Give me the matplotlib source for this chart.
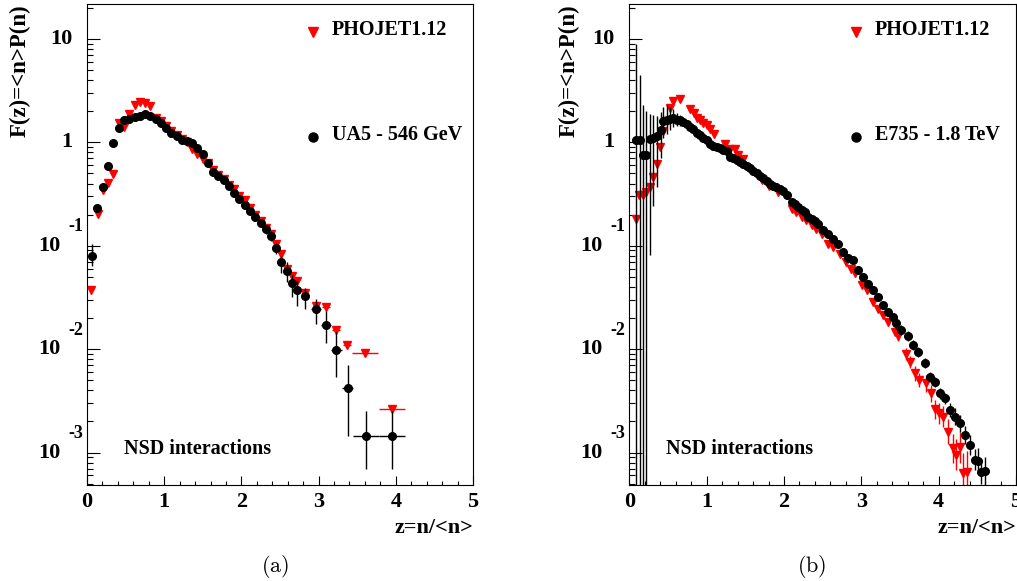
import numpy as np
import matplotlib.pyplot as plt
from matplotlib.ticker import FixedLocator, LogLocator, NullFormatter, MultipleLocator

plt.rcParams['font.family'] = ['Liberation Serif', 'DejaVu Serif']
plt.rcParams['mathtext.fontset'] = 'cm'

# ---- panel (a): UA5 546 GeV ----
ua5_z = [0.069, 0.133, 0.203, 0.276, 0.341, 0.410, 0.479, 0.547, 0.617, 0.686,
         0.754, 0.815, 0.889, 0.953, 1.022, 1.090, 1.160, 1.225, 1.294, 1.358,
         1.427, 1.497, 1.569, 1.634, 1.703, 1.772, 1.841, 1.906, 1.975, 2.044,
         2.113, 2.182, 2.251, 2.316, 2.385, 2.454, 2.519, 2.591, 2.656, 2.725,
         2.829, 2.962, 3.096, 3.230, 3.376, 3.613, 3.949]
ua5_f = [0.080, 0.232, 0.37, 0.59, 0.99, 1.39, 1.63, 1.69, 1.76, 1.81,
         1.88, 1.81, 1.68, 1.55, 1.37, 1.24, 1.14, 1.05, 1.02, 0.978,
         0.88, 0.78, 0.63, 0.52, 0.47, 0.43, 0.376, 0.327, 0.286, 0.246,
         0.216, 0.188, 0.165, 0.144, 0.125, 0.095, 0.0697, 0.0567, 0.044, 0.0377,
         0.0325, 0.0243, 0.0171, 0.0097, 0.00423, 0.00143, 0.00143]
# errors in decades (down / up)
ua5_dn = [0.10, 0.04, 0.03, 0.02, 0.02, 0.02, 0.02, 0.02, 0.02, 0.02,
          0.02, 0.02, 0.02, 0.02, 0.02, 0.02, 0.02, 0.02, 0.02, 0.02,
          0.02, 0.02, 0.02, 0.02, 0.02, 0.02, 0.03, 0.03, 0.03, 0.03,
          0.03, 0.03, 0.04, 0.04, 0.05, 0.06, 0.11, 0.10, 0.14, 0.16,
          0.12, 0.14, 0.17, 0.26, 0.47, 0.31, 0.31]
ua5_up = [0.11, 0.04, 0.03, 0.02, 0.02, 0.02, 0.02, 0.02, 0.02, 0.02,
          0.02, 0.02, 0.02, 0.02, 0.02, 0.02, 0.02, 0.02, 0.02, 0.02,
          0.02, 0.02, 0.02, 0.02, 0.02, 0.02, 0.03, 0.03, 0.03, 0.03,
          0.03, 0.03, 0.04, 0.04, 0.05, 0.05, 0.06, 0.09, 0.07, 0.09,
          0.08, 0.10, 0.14, 0.18, 0.22, 0.25, 0.25]
ua5_xerr = [0.03, 0.0, 0.0, 0.0, 0.0, 0.0, 0.0, 0.0, 0.0, 0.0,
            0.0, 0.0, 0.0, 0.0, 0.0, 0.0, 0.0, 0.0, 0.0, 0.0,
            0.0, 0.0, 0.0, 0.0, 0.0, 0.0, 0.0, 0.0, 0.0, 0.0,
            0.0, 0.0, 0.0, 0.0, 0.0, 0.0, 0.0, 0.0, 0.0, 0.0,
            0.05, 0.065, 0.065, 0.07, 0.075, 0.168, 0.168]

pho_a_z = [0.052, 0.138, 0.203, 0.276, 0.341, 0.410, 0.479, 0.547, 0.617, 0.686,
           0.754, 0.815, 0.889, 0.953, 1.022, 1.090, 1.160, 1.225, 1.294, 1.358,
           1.427, 1.497, 1.569, 1.634, 1.703, 1.772, 1.841, 1.906, 1.975, 2.044,
           2.113, 2.182, 2.251, 2.316, 2.385, 2.454, 2.519, 2.591, 2.656, 2.725,
           2.829, 2.962, 3.096, 3.230, 3.364, 3.605, 3.949]
pho_a_f = [0.037, 0.205, 0.344, 0.408, 0.498, 1.54, 1.41, 1.89, 2.28, 2.45,
           2.40, 2.23, 1.72, 1.60, 1.45, 1.28, 1.17, 1.07, 1.00, 0.855,
           0.766, 0.69, 0.63, 0.545, 0.48, 0.44, 0.39, 0.351, 0.30, 0.279,
           0.23, 0.20, 0.175, 0.15, 0.13, 0.103, 0.084, 0.06, 0.0507, 0.0454,
           0.035, 0.026, 0.0253, 0.0153, 0.0109, 0.00922, 0.00263]
pho_a_xerr = [0.0] * 42 + [0.05, 0.05, 0.05, 0.168, 0.168]

# ---- panel (b): E735 1.8 TeV ----
e735_z = [0.09, 0.14, 0.18, 0.22, 0.267, 0.31, 0.354, 0.405, 0.44, 0.483,
          0.526, 0.568, 0.611, 0.655, 0.698, 0.741, 0.784, 0.827, 0.871, 0.913,
          0.956, 1.0, 1.043, 1.085, 1.129, 1.17, 1.214, 1.257, 1.30, 1.343,
          1.387, 1.43, 1.473, 1.516, 1.559, 1.60, 1.645, 1.688, 1.73, 1.775,
          1.818, 1.86, 1.90, 1.947, 1.99, 2.034, 2.105, 2.14, 2.184, 2.227,
          2.27, 2.313, 2.356, 2.399, 2.442, 2.506, 2.571, 2.636, 2.70, 2.765,
          2.829, 2.894, 2.958, 3.023, 3.088, 3.152, 3.217, 3.282, 3.346, 3.411,
          3.454, 3.519, 3.605, 3.669, 3.734, 3.82, 3.885, 3.95, 4.014, 4.079,
          4.143, 4.208, 4.273, 4.337, 4.402, 4.467, 4.51, 4.553, 4.6]
e735_f = [1.05, 1.05, 0.76, 0.75, 1.09, 1.11, 1.14, 1.31, 1.60, 1.66,
          1.69, 1.72, 1.66, 1.63, 1.57, 1.49, 1.41, 1.34, 1.24, 1.17,
          1.11, 1.045, 0.97, 0.92, 0.90, 0.88, 0.85, 0.82, 0.72, 0.71,
          0.68, 0.645, 0.62, 0.586, 0.56, 0.528, 0.50, 0.47, 0.455, 0.423,
          0.40, 0.378, 0.37, 0.357, 0.34, 0.307, 0.265, 0.255, 0.237, 0.222,
          0.212, 0.19, 0.182, 0.174, 0.164, 0.141, 0.129, 0.117, 0.105, 0.087,
          0.0769, 0.0735, 0.0589, 0.050, 0.0425, 0.0372, 0.032, 0.0266, 0.0229, 0.0205,
          0.0177, 0.0153, 0.0134, 0.0109, 0.0094, 0.00738, 0.0054, 0.00483, 0.00373, 0.00334,
          0.00257, 0.00222, 0.00191, 0.00148, 0.00118, 0.00085, 0.00083, 0.00065, 0.00066]
e735_up = ([0.93, 0.63, 0.48, 0.43, 0.24, 0.22, 0.20, 0.18, 0.14, 0.14,
            0.11, 0.09, 0.06, 0.05] + [0.02] * 31 + [0.03] * 25 + [0.05] * 10
           + [0.07, 0.08, 0.08, 0.09, 0.10, 0.10, 0.12, 0.12, 0.14])
e735_dn = ([5.0, 5.0, 5.0, 5.0, 1.13, 0.66, 0.49, 0.27, 0.16, 0.14,
            0.11, 0.09, 0.06, 0.05] + [0.02] * 31 + [0.03] * 25 + [0.05] * 10
           + [0.07, 0.08, 0.08, 0.09, 0.10, 0.10, 0.12, 0.12, 0.14])

pho_b_z = [0.087, 0.121, 0.173, 0.216, 0.263, 0.310, 0.354, 0.397, 0.440, 0.483,
           0.526, 0.560, 0.655, 0.784, 0.836, 0.879, 0.920, 0.956, 1.000, 1.043,
           1.094, 1.236, 1.300, 1.370, 1.410, 1.470, 1.710, 1.800, 1.925, 2.098,
           2.160, 2.227, 2.290, 2.356, 2.420, 2.486, 2.571, 2.636, 2.722, 2.808,
           2.873, 2.920, 3.003, 3.067, 3.153, 3.217, 3.280, 3.346, 3.433, 3.480,
           3.584, 3.627, 3.691, 3.750, 3.842, 3.907, 3.950, 4.010, 4.057, 4.122,
           4.186, 4.230, 4.273, 4.316, 4.360]
pho_b_f = [0.183, 0.307, 0.307, 0.331, 0.37, 0.46, 0.62, 0.90, 1.29, 1.60,
           2.16, 2.49, 2.60, 2.12, 1.92, 1.73, 1.66, 1.54, 1.46, 1.36,
           1.21, 0.97, 0.87, 0.86, 0.75, 0.69, 0.43, 0.376, 0.331, 0.229,
           0.21, 0.19, 0.176, 0.158, 0.145, 0.131, 0.105, 0.0975, 0.084, 0.0697,
           0.060, 0.055, 0.0415, 0.0372, 0.0286, 0.0247, 0.0213, 0.0184, 0.0147, 0.0135,
           0.00895, 0.00754, 0.00582, 0.005, 0.00466, 0.00373, 0.00261, 0.0024, 0.00222, 0.00159,
           0.0011, 0.00095, 0.00113, 0.00063, 0.00065]
pho_b_err = [0.0] * 49 + [0.05, 0.06, 0.06, 0.07, 0.07, 0.08, 0.08, 0.09,
                          0.10, 0.10, 0.12, 0.14, 0.15, 0.15, 0.20, 0.20]

ytick_vals = [1e-3, 1e-2, 1e-1, 1, 10]
ytick_base = ['10', '10', '10', '1', '10']
ytick_exp = ['-3', '-2', '-1', '', '']
xtick_vals = [0, 1, 2, 3, 4, 5]

PX = 0.72  # points per pixel at dpi 100


def yerr_from_dex(f, dn, up):
    f = np.asarray(f)
    lo = f - f * 10.0 ** (-np.asarray(dn))
    hi = f * 10.0 ** np.asarray(up) - f
    return [lo, hi]


def draw_panel(ax, mc_z, mc_f, mc_yerr, mc_xerr, d_z, d_f, d_yerr, d_xerr, data_label):
    ax.set_yscale('log')
    ax.set_xlim(0, 5)
    ax.set_ylim(4.85e-4, 21.8)

    ax.errorbar(mc_z, mc_f, yerr=mc_yerr, xerr=mc_xerr, fmt='v', color='red',
                ms=5.5, elinewidth=1, capsize=0, zorder=2)
    ax.errorbar(d_z, d_f, yerr=d_yerr, xerr=d_xerr, fmt='o', color='black',
                ms=5.5, elinewidth=1, capsize=0, zorder=3)

    # ticks, ROOT style
    ax.yaxis.set_major_locator(FixedLocator(ytick_vals))
    ax.yaxis.set_minor_locator(LogLocator(base=10, subs=np.arange(2, 10)))
    ax.yaxis.set_major_formatter(NullFormatter())
    ax.yaxis.set_minor_formatter(NullFormatter())
    ax.xaxis.set_major_locator(FixedLocator(xtick_vals))
    ax.xaxis.set_minor_locator(MultipleLocator(0.2))
    ax.tick_params(axis='y', which='major', direction='in', length=9, width=0.8, right=False)
    ax.tick_params(axis='y', which='minor', direction='in', length=4.5, width=0.8, right=False)
    ax.tick_params(axis='x', which='major', direction='in', length=6.5, width=0.8, top=False, pad=5)
    ax.tick_params(axis='x', which='minor', direction='in', length=3.2, width=0.8, top=False)
    for lab in ax.get_xticklabels():
        lab.set_fontweight('bold')
        lab.set_fontsize(16)
    for s in ax.spines.values():
        s.set_linewidth(0.8)

    for v, base, expo in zip(ytick_vals, ytick_base, ytick_exp):
        if expo:
            ax.annotate(base, xy=(0, v), xycoords=('axes fraction', 'data'),
                        xytext=(-27 * PX, 0), textcoords='offset points',
                        ha='right', va='center', fontsize=16, fontweight='bold')
            ax.annotate(expo, xy=(0, v), xycoords=('axes fraction', 'data'),
                        xytext=(-4 * PX, 19 * PX), textcoords='offset points',
                        ha='right', va='center', fontsize=13, fontweight='bold')
        else:
            ax.annotate(base, xy=(0, v), xycoords=('axes fraction', 'data'),
                        xytext=(-15 * PX, 0), textcoords='offset points',
                        ha='right', va='center', fontsize=16, fontweight='bold')

    ax.annotate('z=n/<n>', xy=(1, 0), xycoords='axes fraction',
                xytext=(0, -43 * PX), textcoords='offset points',
                ha='right', va='center', fontsize=16, fontweight='bold')

    # legend drawn by hand
    ax.plot([0.585], [0.942], 'v', color='red', ms=7, transform=ax.transAxes, clip_on=False)
    ax.text(0.635, 0.946, 'PHOJET1.12', transform=ax.transAxes, ha='left', va='center',
            fontsize=14.5, fontweight='bold')
    ax.plot([0.585], [0.724], 'o', color='black', ms=6.5, transform=ax.transAxes, clip_on=False)
    ax.text(0.635, 0.728, data_label, transform=ax.transAxes, ha='left', va='center',
            fontsize=14.5, fontweight='bold')

    ax.text(0.095, 0.075, 'NSD interactions', transform=ax.transAxes, ha='left',
            va='center', fontsize=14.5, fontweight='bold')


fig = plt.figure(figsize=(10.17, 5.81), dpi=100)
ax_a = fig.add_axes([87 / 1017, 96 / 581, 386 / 1017, 481 / 581])
ax_b = fig.add_axes([629.3 / 1017, 96 / 581, 386.7 / 1017, 481 / 581])

draw_panel(ax_a, pho_a_z, pho_a_f, None, pho_a_xerr,
           ua5_z, ua5_f, yerr_from_dex(ua5_f, ua5_dn, ua5_up), ua5_xerr,
           'UA5 - 546 GeV')
draw_panel(ax_b, pho_b_z, pho_b_f, yerr_from_dex(pho_b_f, pho_b_err, pho_b_err), None,
           e735_z, e735_f, yerr_from_dex(e735_f, e735_dn, e735_up), None,
           'E735 - 1.8 TeV')

fig.text(20 / 1017, 1 - 4 / 581, 'F(z)=<n>P(n)', rotation=90, ha='center', va='top',
         fontsize=16.5, fontweight='bold')
fig.text(569 / 1017, 1 - 4 / 581, 'F(z)=<n>P(n)', rotation=90, ha='center', va='top',
         fontsize=16.5, fontweight='bold')

fig.text(275 / 1017, 1 - 567 / 581, r'$\mathrm{(a)}$', ha='center', va='center', fontsize=16)
fig.text(812 / 1017, 1 - 567 / 581, r'$\mathrm{(b)}$', ha='center', va='center', fontsize=16)

fig.savefig('out.png', dpi=100)
